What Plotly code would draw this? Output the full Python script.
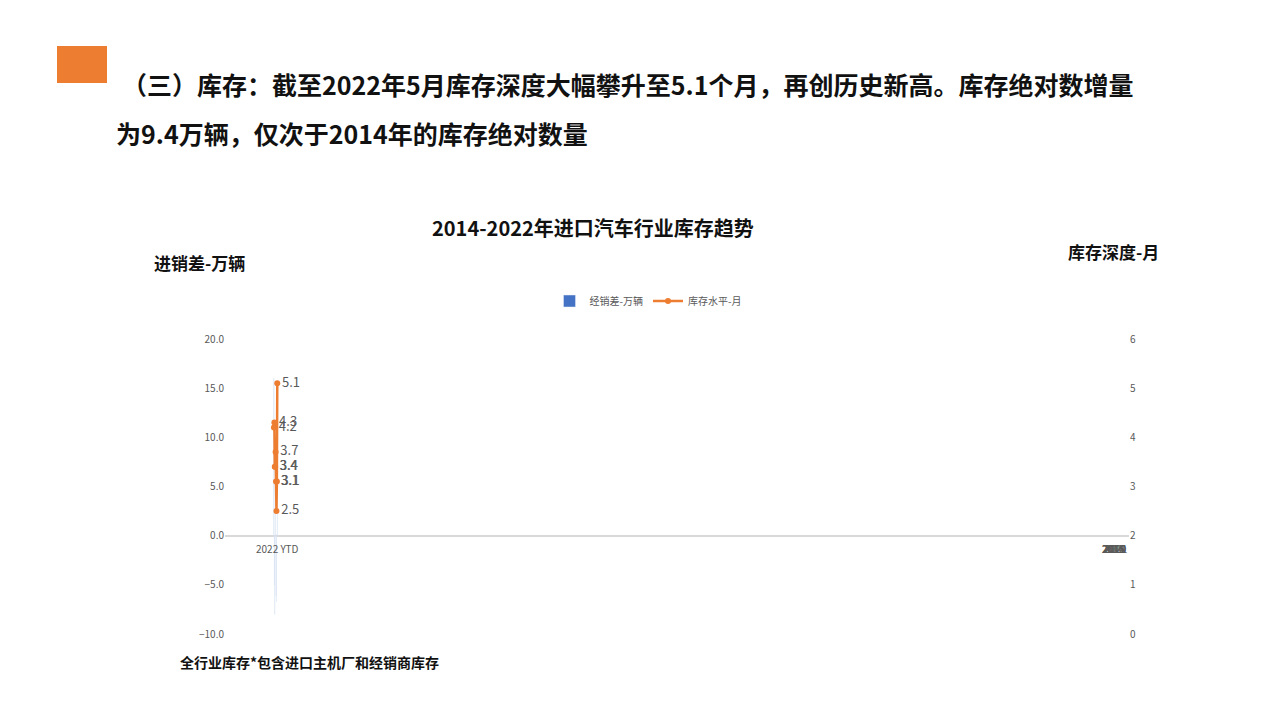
import plotly.graph_objects as go

years = ["2014", "2015", "2016", "2017", "2018", "2019", "2020", "2021", "2022 YTD"]
diff = [16.0, -5.0, -8.0, 8.5, 0.0, -6.1, -6.7, 0.1, 9.4]
depth = [4.2, 4.3, 3.4, 3.4, 3.7, 3.1, 2.5, 3.1, 5.1]

BLUE = "#4472C4"
ORANGE = "#ED7D31"
FONT = "Noto Sans CJK SC"

fig = go.Figure()
fig.add_trace(go.Bar(
    x=years, y=diff, name="经销差-万辆", marker_color=BLUE, width=0.31,
    text=[f"{v:.1f}" for v in diff], textposition="outside",
    textfont=dict(size=10, color="#595959"), cliponaxis=False,
))
fig.add_trace(go.Scatter(
    x=years, y=depth, name="库存水平-月", yaxis="y2", mode="lines+markers+text",
    line=dict(color=ORANGE, width=2.5), marker=dict(size=6, color=ORANGE),
    text=[f"{v:.1f}" for v in depth], textposition="middle right",
    textfont=dict(size=13, color="#595959"), cliponaxis=False,
))

# category labels sit on the zero line
for y in years:
    fig.add_annotation(x=y, y=0, xref="x", yref="y", text=y, showarrow=False,
                       yshift=-13, font=dict(size=10, color="#595959"))

fig.update_layout(
    width=1280, height=720, margin=dict(l=0, r=0, t=0, b=0, autoexpand=False),
    plot_bgcolor="white", paper_bgcolor="white",
    font=dict(family=FONT),
    xaxis=dict(type="category", domain=[217/1280, 1121/1280], showticklabels=False,
               showline=False, ticks="", showgrid=False, zeroline=False),
    yaxis=dict(domain=[1-626/720, 1-331/720], range=[-10, 20], dtick=5,
               tickformat=".1f", showgrid=False, zeroline=True, zerolinecolor="#D9D9D9",
               tickfont=dict(size=10, color="#595959")),
    yaxis2=dict(overlaying="y", side="right", range=[0, 6], dtick=1, showgrid=False,
                zeroline=False, tickfont=dict(size=10, color="#595959")),
    legend=dict(orientation="h", x=0.5, xanchor="center", y=1-293/720, yanchor="middle",
                font=dict(size=10, color="#595959")),
    showlegend=True,
)

fig.add_shape(type="rect", xref="paper", yref="paper", x0=49/1280, x1=99/1280,
              y0=1-75/720, y1=1-38/720, fillcolor=ORANGE, line_width=0)
fig.add_annotation(xref="paper", yref="paper", x=112/1280, y=1-56/720, xanchor="left",
                   text="<b>（三）库存：截至2022年5月库存深度大幅攀升至5.1个月，再创历史新高。库存绝对数增量</b>",
                   showarrow=False, font=dict(size=25, color="#111"))
fig.add_annotation(xref="paper", yref="paper", x=106/1280, y=1-105/720, xanchor="left",
                   text="<b>为9.4万辆，仅次于2014年的库存绝对数量</b>",
                   showarrow=False, font=dict(size=25, color="#111"))
fig.add_annotation(xref="paper", yref="paper", x=585/1280, y=1-203/720,
                   text="<b>2014-2022年进口汽车行业库存趋势</b>",
                   showarrow=False, font=dict(size=20, color="#111"))
fig.add_annotation(xref="paper", yref="paper", x=144/1280, y=1-240/720, xanchor="left",
                   text="<b>进销差-万辆</b>", showarrow=False, font=dict(size=17, color="#111"))
fig.add_annotation(xref="paper", yref="paper", x=1153/1280, y=1-243/720, xanchor="right",
                   text="<b>库存深度-月</b>", showarrow=False, font=dict(size=17, color="#111"))
fig.add_annotation(xref="paper", yref="paper", x=170/1280, y=1-666/720, xanchor="left",
                   text="<b>全行业库存*包含进口主机厂和经销商库存</b>", showarrow=False,
                   font=dict(size=14, color="#111"))

fig.write_html("out.html")
